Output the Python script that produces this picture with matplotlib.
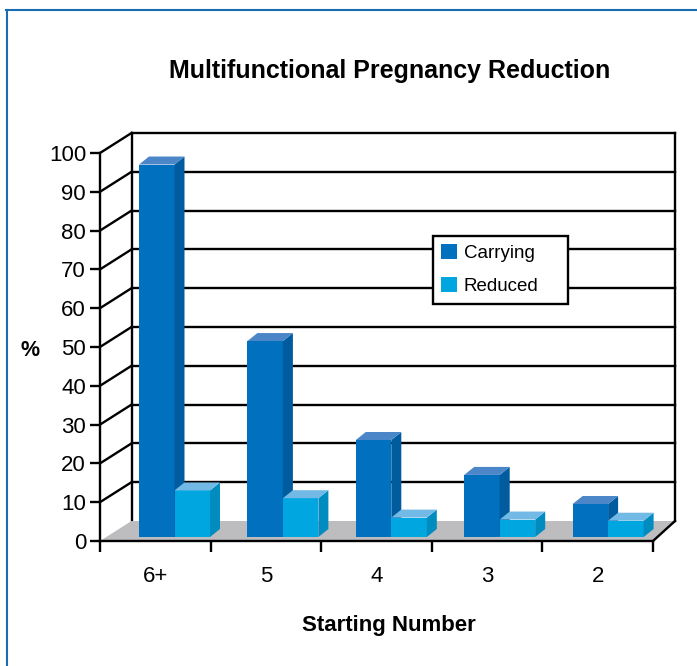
import numpy as np
import matplotlib
matplotlib.use("Agg")
import matplotlib.pyplot as plt
from matplotlib.patches import Polygon, Patch
from matplotlib.lines import Line2D

# data
categories = ["6+", "5", "4", "3", "2"]
carrying = [96, 50.5, 25, 16, 8.5]
reduced = [12, 10, 5, 4.5, 4.2]
yticks = list(range(0, 101, 10))

plt.rcParams['font.family'] = ['Liberation Sans', 'DejaVu Sans']

W, H = 697, 666
fig = plt.figure(figsize=(W / 100, H / 100), dpi=100)

# front plane of the 3d box, in pixels
left, right, bottom, top = 100, 653, 541, 153
ax = fig.add_axes([left / W, (H - bottom) / H, (right - left) / W, (bottom - top) / H])
ax.set_xlim(0, len(categories))
ax.set_ylim(0, 100)

px_x = len(categories) / (right - left)   # category units per pixel
px_y = 100 / (bottom - top)                # value units per pixel

# depth offsets (back wall relative to front plane)
dxl, dxr, dy = 31.5 * px_x, 22 * px_x, 20 * px_y


def proj(x, v, d):
    n = len(categories)
    return x + d * (dxl + (dxr - dxl) * x / n), v + d * dy


n = len(categories)
lw = 1.7

# back wall + left side gridlines
for v in yticks[1:]:
    x0, y0 = proj(0, v, 1)
    x1, y1 = proj(n, v, 1)
    ax.plot([x0, x1], [y0, y1], color="black", lw=lw, zorder=1, clip_on=False)
    ax.plot([0, x0], [v, y0], color="black", lw=lw, zorder=1, clip_on=False)
for xe in (0, n):
    xa, ya = proj(xe, 0, 1)
    xb, yb = proj(xe, 100, 1)
    ax.plot([xa, xb], [ya, yb], color="black", lw=lw, zorder=1, clip_on=False)

# floor
floor = [proj(0, 0, 0), proj(n, 0, 0), proj(n, 0, 1), proj(0, 0, 1)]
ax.add_patch(Polygon(floor, closed=True, facecolor="#bdbdbf", edgecolor="none", zorder=2, clip_on=False))
xa, ya = proj(n, 0, 1)
ax.plot([n, xa], [0, ya], color="black", lw=lw, zorder=3, clip_on=False)

# bars
bar_w = 35.5 * px_x
side_dx, side_dy = 10 * px_x, 8 * px_y
base = 4 * px_y
colors = {
    "Carrying": ("#0070bf", "#005c9e", "#4b86c8"),
    "Reduced": ("#00a6df", "#008cbf", "#72b9e6"),
}


def bar3d(x0, h, cols, z):
    front, side, topc = cols
    y0, y1 = base, base + h
    x1 = x0 + bar_w
    ax.add_patch(Polygon([(x0, y0), (x1, y0), (x1, y1), (x0, y1)], facecolor=front, edgecolor="none", zorder=z, clip_on=False))
    ax.add_patch(Polygon([(x1, y0), (x1 + side_dx, y0 + side_dy), (x1 + side_dx, y1 + side_dy), (x1, y1)],
                         facecolor=side, edgecolor="none", zorder=z, clip_on=False))
    ax.add_patch(Polygon([(x0, y1), (x1, y1), (x1 + side_dx, y1 + side_dy), (x0 + side_dx, y1 + side_dy)],
                         facecolor=topc, edgecolor="none", zorder=z, clip_on=False))


for i in range(n):
    x0 = i + (39 - 2.2 * i) * px_x
    bar3d(x0, carrying[i], colors["Carrying"], 4)
    bar3d(x0 + bar_w, reduced[i], colors["Reduced"], 5)

# axes
for s in ("top", "right"):
    ax.spines[s].set_visible(False)
for s in ("left", "bottom"):
    ax.spines[s].set_linewidth(lw)
    ax.spines[s].set_zorder(6)
ax.set_yticks(yticks)
ax.tick_params(axis="y", length=7, width=lw, pad=3, labelsize=16)
ax.set_xticks(range(n + 1))
ax.set_xticklabels([])
ax.set_xticks(np.arange(n) + 0.5, minor=True)
ax.set_xticklabels(categories, minor=True)
ax.tick_params(axis="x", which="major", length=8, width=lw)
ax.tick_params(axis="x", which="minor", length=0, pad=18, labelsize=16)

fig.text(390 / W, 1 - 71 / H, "Multifunctional Pregnancy Reduction", ha="center", va="center",
         fontsize=18, fontweight="bold")
fig.text(389 / W, 1 - 626 / H, "Starting Number", ha="center", va="center", fontsize=16, fontweight="bold")
fig.text(30 / W, 1 - 350 / H, "%", ha="center", va="center", fontsize=15.5, fontweight="bold")

# legend
handles = [Patch(facecolor=colors[k][0], edgecolor="none", label=k) for k in ("Carrying", "Reduced")]
leg = ax.legend(handles=handles, loc="upper left",
                bbox_to_anchor=(433 / W, 1 - 304 / H, 135 / W, 68 / H), mode="expand",
                bbox_transform=fig.transFigure, fontsize=13.5, frameon=True, fancybox=False,
                framealpha=1, edgecolor="black", handlelength=0.85, handleheight=0.85,
                handletextpad=0.35, labelspacing=0.8, borderpad=0.45, borderaxespad=0)
leg.get_frame().set_linewidth(lw)
leg.set_zorder(10)

# blue page border
fig.add_artist(Line2D([6 / W, 1], [1 - 10 / H, 1 - 10 / H], color="#1a6db3", lw=1.5))
fig.add_artist(Line2D([7 / W, 7 / W], [0, 1 - 10 / H], color="#1a6db3", lw=1.5))

fig.savefig("out.png", dpi=100)
